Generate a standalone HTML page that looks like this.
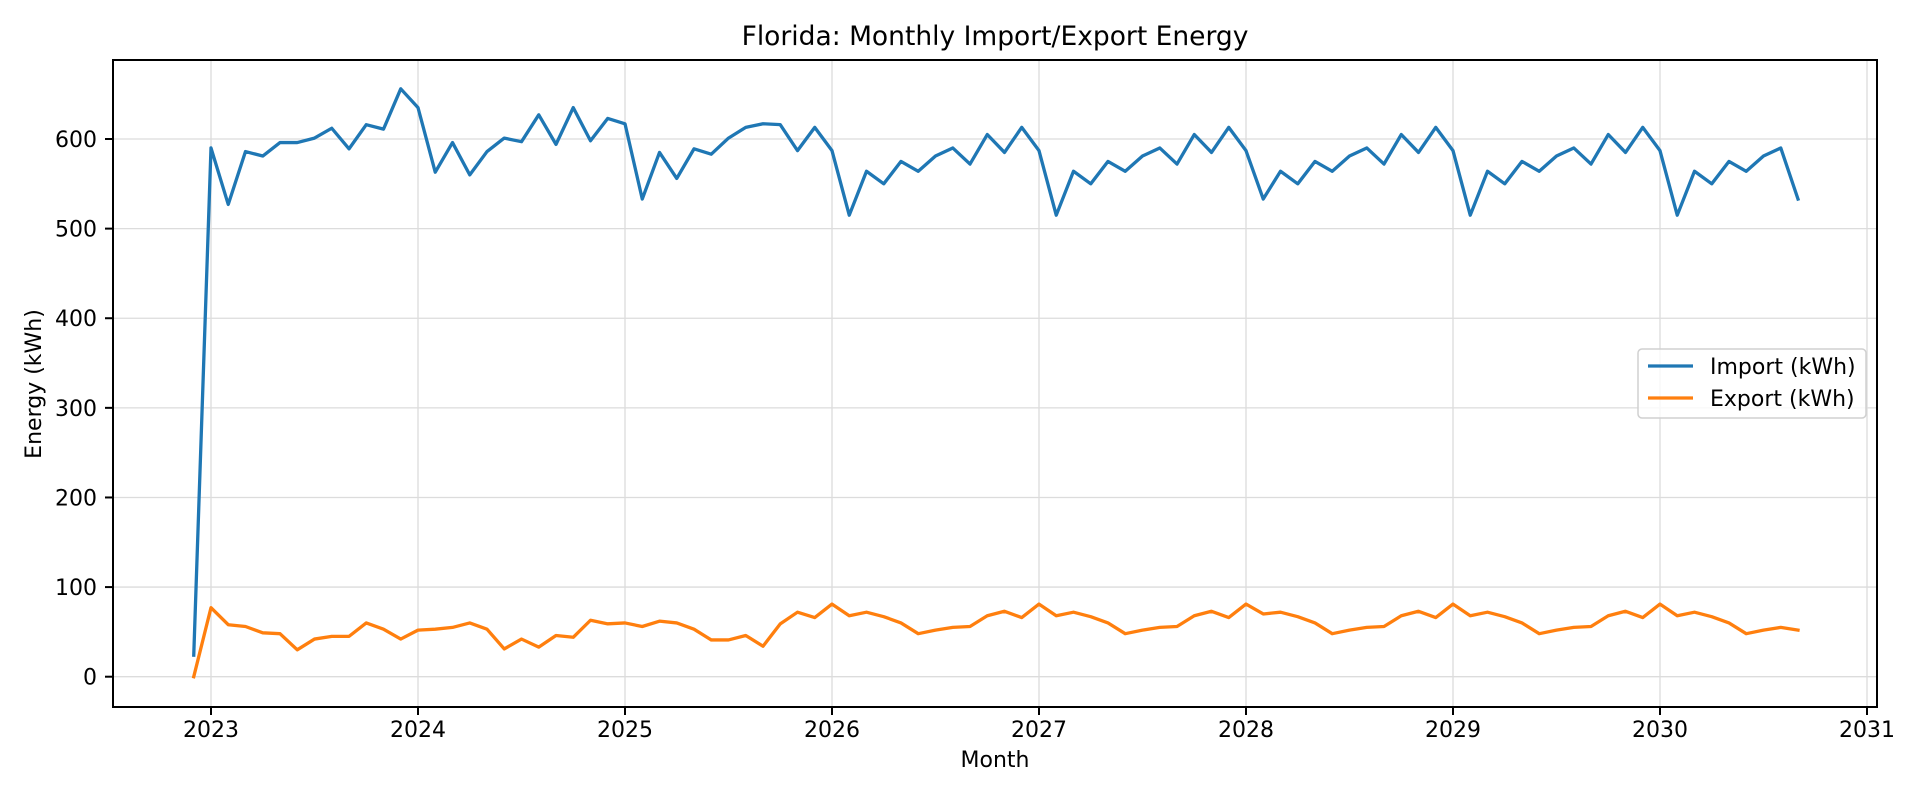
<!DOCTYPE html>
<html><head><meta charset="utf-8"><style>
html,body{margin:0;padding:0;background:#fff;}
svg{display:block;font-family:"DejaVu Sans","Liberation Sans",sans-serif;}
</style></head><body>
<svg id="chart" width="1920" height="800" viewBox="0 0 1920 800"></svg>
<script>
const startYear = 2022, startMonth = 11; // Dec 2022 (0-based month)
const importVals = [24,
590,527,586,581,596,596,601,612,589,616,611,656,
635,563,596,560,586,601,597,627,594,635,598,623,
617,533,585,556,589,583,601,613,617,616,587,613,
587,515,564,550,575,564,581,590,572,605,585,613,
587,515,564,550,575,564,581,590,572,605,585,613,
587,533,564,550,575,564,581,590,572,605,585,613,
587,515,564,550,575,564,581,590,572,605,585,613,
587,515,564,550,575,564,581,590,533];
const exportVals = [0,
77,58,56,49,48,30,42,45,45,60,53,42,
52,53,55,60,53,31,42,33,46,44,63,59,
60,56,62,60,53,41,41,46,34,59,72,66,
81,68,72,67,60,48,52,55,56,68,73,66,
81,68,72,67,60,48,52,55,56,68,73,66,
81,70,72,67,60,48,52,55,56,68,73,66,
81,68,72,67,60,48,52,55,56,68,73,66,
81,68,72,67,60,48,52,55,52];
const xTickLabels = ["2023","2024","2025","2026","2027","2028","2029","2030","2031"];
const yTickLabels = [0,100,200,300,400,500,600];

const L=113,R=1877,T=60,B=707;
const X0=211, YEARPX=207; // x of 2023-01
function xScale(yearFrac){return X0+(yearFrac-2023)*YEARPX;}
function yScale(v){return 676.7-(v/600)*(676.7-139);}
const NS="http://www.w3.org/2000/svg";
const svg=document.getElementById('chart');
function mk(tag,attrs,parent){const e=document.createElementNS(NS,tag);for(const k in attrs)e.setAttribute(k,attrs[k]);(parent||svg).appendChild(e);return e;}

// grid
const grid=mk('g',{});


xTickLabels.forEach(l=>{const x=xScale(+l);mk('line',{x1:x,x2:x,y1:T,y2:B,stroke:'#dcdcdc','stroke-width':1.3},grid);});
yTickLabels.forEach(v=>{const y=yScale(v);mk('line',{x1:L,x2:R,y1:y,y2:y,stroke:'#dcdcdc','stroke-width':1.3},grid);});

// series
function monthX(i){const m=startMonth+i;return xScale(startYear+m/12);}
function line(vals,color,name){
  const pts=vals.map((v,i)=>monthX(i).toFixed(2)+','+yScale(v).toFixed(2)).join(' ');
  const p=mk('polyline',{points:pts,fill:'none',stroke:color,'stroke-width':3.3,'stroke-linejoin':'round','stroke-linecap':'square'});
  
  
}
line(importVals,'#1f77b4','import-line');
line(exportVals,'#ff7f0e','export-line');

// frame
const fr=mk('rect',{x:L,y:T,width:R-L,height:B-T,fill:'none',stroke:'#000','stroke-width':2});



// ticks
xTickLabels.forEach(l=>{const x=xScale(+l);
  mk('line',{x1:x,x2:x,y1:B,y2:B+8,stroke:'#000','stroke-width':2});
  const t=mk('text',{x:x,y:737,'font-size':22,'text-anchor':'middle',fill:'#000'});t.textContent=l;
  
  
});
yTickLabels.forEach(v=>{const y=yScale(v);
  mk('line',{x1:L-8,x2:L,y1:y,y2:y,stroke:'#000','stroke-width':2});
  const t=mk('text',{x:97,y:y+8,'font-size':22,'text-anchor':'end',fill:'#000'});t.textContent=v;
  
  
});

// titles
let t=mk('text',{x:995,y:45,'font-size':26.5,'text-anchor':'middle',fill:'#000'});t.textContent='Florida: Monthly Import/Export Energy';


t=mk('text',{x:995,y:767,'font-size':22,'text-anchor':'middle',fill:'#000'});t.textContent='Month';


t=mk('text',{x:0,y:0,'font-size':22,'text-anchor':'middle',fill:'#000',transform:'translate(41,384) rotate(-90)'});t.textContent='Energy (kWh)';



// legend
const lg=mk('g',{});


mk('rect',{x:1638,y:349,width:228,height:69,rx:4,fill:'#fff','fill-opacity':0.8,stroke:'#d0d0d0','stroke-width':1.5},lg);
[['Import (kWh)','#1f77b4',366],['Export (kWh)','#ff7f0e',398]].forEach(([lab,c,y])=>{
  mk('line',{x1:1648,x2:1693,y1:y,y2:y,stroke:c,'stroke-width':3.3},lg);
  const tx=mk('text',{x:1710,y:y+8,'font-size':22,fill:'#000'},lg);tx.textContent=lab;
  
  
});
</script>
</body></html>
